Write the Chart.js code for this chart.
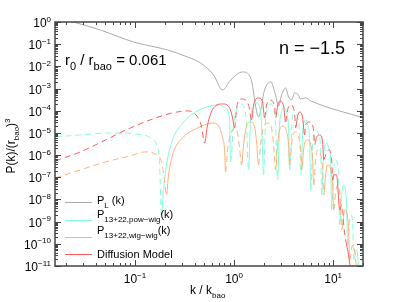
<!DOCTYPE html>
<html lang="en">
<head>
<meta charset="UTF-8" />
<title>P(k) comparison, n = -1.5</title>
<script src="https://cdn.jsdelivr.net/npm/chart.js"></script>
<style>
    * { margin: 0; padding: 0; }
    body { background: #fff; width: 402px; height: 302px; overflow: hidden; }
    canvas { display: block; }
</style>
</head>
<body>
<canvas id="pkChart" width="402" height="302"></canvas>
<script>
// values (k / k_bao, P(k)/(r_bao)^3)
// sign: -1 = negative part (dashed), 1 = positive (solid), 0 = zero crossing
const plK = [0.0157, 0.0239, 0.0448, 0.0966, 0.213, 0.339, 0.459, 0.621, 0.765, 0.922, 1.22, 1.47, 1.77, 2.03, 2.34, 2.62, 2.81, 3.02, 3.31, 3.55, 3.81, 4.08, 4.38, 4.70, 5.27, 5.93, 20.3];
const plP = [1.68, 1.0, 0.436, 0.126, 0.0548, 0.0265, 0.0142, 4.1e-3, 8.6e-4, 2.4e-3, 5.6e-3, 3.0e-3, 5.3e-5, 8.6e-4, 2.0e-3, 5.2e-4, 1.6e-4, 5.2e-4, 1.06e-3, 4.2e-4, 3.1e-4, 6.3e-4, 5.7e-4, 3.4e-4, 3.8e-4, 2.8e-4, 4.7e-5];

const diffK = [0.01574, 0.02812, 0.0504, 0.0901, 0.161, 0.2393, 0.339, 0.428, 0.470, 0.504,
    0.540, 0.621, 0.766, 0.901, 0.966, 1.012,
    1.06, 1.19, 1.40, 1.502,
    1.574, 1.768, 1.94, 2.033,
    2.13, 2.284, 2.564, 2.625,
    2.75, 2.88, 3.16, 3.31,
    3.47, 3.72, 4.08, 4.18,
    4.38, 4.59, 4.92, 5.15,
    5.27, 5.79, 6.35, 6.50,
    6.81, 7.31, 7.83, 8.02,
    8.60, 9.01, 9.66, 9.89,
    10.12, 10.85, 11.1, 11.63,
    12.18, 12.47, 12.76, 13.37,
    14.0, 15.02];
const diffP = [5.5e-7, 1.39e-6, 4.8e-6, 1.68e-5, 4.7e-5, 8.0e-5, 9.8e-5, 5.3e-5, 1.86e-5, 3.5e-6,
    2.3e-5, 1.34e-4, 2.02e-4, 1.34e-4, 4.7e-5, 1.68e-5,
    1.34e-4, 3.4e-4, 1.82e-4, 3.9e-5,
    1.82e-4, 3.77e-4, 2.49e-4, 4.7e-5,
    1.82e-4, 3.06e-4, 1.64e-4, 4.7e-5,
    1.64e-4, 2.76e-4, 1.64e-4, 3.1e-5,
    1.09e-4, 1.82e-4, 8.0e-5, 1.68e-5,
    5.8e-5, 8.8e-5, 4.7e-5, 8.1e-6,
    2.3e-5, 3.1e-5, 1.36e-5, 2.9e-6,
    6.6e-6, 8.1e-6, 3.5e-6, 6.1e-7,
    1.39e-6, 1.71e-6, 6.1e-7, 7.6e-8,
    1.28e-7, 1.28e-7, 4.5e-8, 3.4e-9,
    5.7e-9, 3.4e-9, 7.2e-10, 1.5e-10,
    5.4e-11, 6.8e-12];
const diffSign = [-1, -1, -1, -1, -1, -1, -1, -1, -1, 0,
    1, 1, 1, 1, 1, 0,
    -1, -1, -1, 0,
    1, 1, 1, 0,
    -1, -1, -1, 0,
    1, 1, 1, 0,
    -1, -1, -1, 0,
    1, 1, 1, 0,
    -1, -1, -1, 0,
    1, 1, 1, 0,
    -1, -1, -1, 0,
    1, 1, 1, 0,
    -1, -1, -1, 0,
    1, 1];

const powK = [0.01574, 0.02812, 0.0566, 0.1012, 0.1434, 0.165, 0.1767, 0.1853,
    0.194, 0.208, 0.2393, 0.309, 0.428, 0.579, 0.697, 0.821, 0.901, 0.922,
    0.988, 1.06, 1.163, 1.276, 1.337, 1.40,
    1.468, 1.574, 1.688, 1.81, 1.896, 1.986,
    2.08, 2.18, 2.337, 2.506, 2.625, 2.75,
    2.88, 3.02, 3.16, 3.39, 3.55, 3.63,
    3.81, 3.90, 4.08, 4.38, 4.59, 4.70,
    4.92, 5.03, 5.27, 5.53, 5.79, 5.93,
    6.21, 6.50, 6.81, 7.14, 7.48, 7.65,
    8.02, 8.21, 8.60, 9.01, 9.44, 9.66,
    10.12, 10.36, 10.6, 11.1, 11.37, 11.63,
    12.18, 12.47, 12.76, 13.37, 13.68, 14.0,
    14.68, 15.02, 15.74, 16.1,
    16.9, 17.27, 18.1];
const powP = [6.6e-6, 8.1e-6, 1.0e-5, 9.0e-6, 6.0e-6, 2.9e-6, 4.9e-7, 2.0e-9,
    2.7e-8, 3.6e-7, 4.8e-6, 3.1e-5, 9.8e-5, 1.64e-4, 1.82e-4, 1.34e-4, 3.9e-5, 4.9e-7,
    2.3e-5, 1.09e-4, 2.02e-4, 1.34e-4, 2.3e-5, 2.16e-7,
    3.9e-5, 1.64e-4, 2.25e-4, 1.48e-4, 2.3e-5, 1.28e-7,
    3.9e-5, 1.48e-4, 2.02e-4, 1.21e-4, 2.3e-5, 7.6e-8,
    2.3e-5, 9.8e-5, 1.34e-4, 8.0e-5, 1.36e-5, 2.16e-7,
    1.36e-5, 5.8e-5, 8.0e-5, 4.7e-5, 8.1e-6, 1.28e-7,
    8.1e-6, 2.8e-5, 3.9e-5, 2.3e-5, 4.8e-6, 2.7e-8,
    2.9e-6, 1.0e-5, 1.36e-5, 8.1e-6, 1.71e-6, 1.61e-8,
    1.02e-6, 2.6e-6, 3.5e-6, 2.11e-6, 6.1e-7, 3.4e-9,
    2.16e-7, 4.9e-7, 6.1e-7, 3.6e-7, 7.6e-8, 7.2e-10,
    1.61e-8, 3.7e-8, 4.5e-8, 2.2e-8, 5.7e-9, 9.0e-11,
    9.8e-10, 2.0e-9, 9.8e-10, 1.9e-11,
    4.4e-11, 5.4e-11, 8.3e-12];
const powSign = [-1, -1, -1, -1, -1, -1, -1, 0,
    1, 1, 1, 1, 1, 1, 1, 1, 1, 0,
    -1, -1, -1, -1, -1, 0,
    1, 1, 1, 1, 1, 0,
    -1, -1, -1, -1, -1, 0,
    1, 1, 1, 1, 1, 0,
    -1, -1, -1, -1, -1, 0,
    1, 1, 1, 1, 1, 0,
    -1, -1, -1, -1, -1, 0,
    1, 1, 1, 1, 1, 0,
    -1, -1, -1, -1, -1, 0,
    1, 1, 1, 1, 1, 0,
    -1, -1, -1, 0,
    1, 1, 1];

const wigK = [0.01574, 0.02812, 0.0504, 0.0901, 0.1276, 0.161, 0.1853, 0.1986, 0.208,
    0.218, 0.245, 0.302, 0.408, 0.540, 0.607, 0.697, 0.766, 0.802, 0.821,
    0.860, 0.922, 1.012, 1.084, 1.136, 1.19,
    1.247, 1.337, 1.468, 1.611, 1.688, 1.768,
    1.852, 1.986, 2.23, 2.39, 2.506, 2.625,
    2.75, 2.88, 3.16, 3.39, 3.55, 3.63,
    3.81, 3.90, 4.18, 4.48, 4.70, 4.81,
    5.03, 5.15, 5.53, 5.93, 6.21, 6.35,
    6.65, 6.81, 7.14, 7.48, 7.83, 8.02,
    8.40, 8.60, 9.01, 9.44, 9.89, 10.12,
    10.6, 10.85, 11.1, 11.63, 11.9, 12.18,
    12.76, 13.06, 13.37, 14.0, 14.35, 14.68,
    15.38, 15.74, 16.5, 17.27];
const wigP = [9.4e-8, 2.16e-7, 4.9e-7, 9.2e-7, 1.39e-6, 1.13e-6, 4.9e-7, 7.6e-8, 1.61e-8,
    1.28e-7, 1.39e-6, 6.0e-6, 1.51e-5, 2.54e-5, 2.8e-5, 2.07e-5, 6.0e-6, 1.71e-6, 1.75e-7,
    1.71e-6, 8.1e-6, 1.68e-5, 1.0e-5, 2.11e-6, 3.6e-7,
    2.9e-6, 2.07e-5, 3.1e-5, 1.86e-5, 3.9e-6, 3.6e-7,
    2.9e-6, 1.86e-5, 2.8e-5, 1.68e-5, 2.9e-6, 2.16e-7,
    2.9e-6, 1.36e-5, 2.07e-5, 1.11e-5, 2.9e-6, 3.6e-7,
    2.9e-6, 7.3e-6, 1.11e-5, 6.6e-6, 1.71e-6, 2.16e-7,
    1.71e-6, 3.5e-6, 4.8e-6, 2.9e-6, 6.1e-7, 4.5e-8,
    6.1e-7, 1.39e-6, 1.71e-6, 1.02e-6, 2.16e-7, 1.61e-8,
    1.28e-7, 2.94e-7, 3.6e-7, 2.16e-7, 4.5e-8, 3.4e-9,
    2.2e-8, 3.7e-8, 4.5e-8, 2.2e-8, 5.7e-9, 4.3e-10,
    2.0e-9, 3.1e-9, 3.4e-9, 1.48e-9, 4.3e-10, 1.9e-11,
    6.6e-11, 9.0e-11, 4.4e-11, 6.8e-12];
const wigSign = [-1, -1, -1, -1, -1, -1, -1, -1, 0,
    1, 1, 1, 1, 1, 1, 1, 1, 1, 0,
    -1, -1, -1, -1, -1, 0,
    1, 1, 1, 1, 1, 0,
    -1, -1, -1, -1, -1, 0,
    1, 1, 1, 1, 1, 0,
    -1, -1, -1, -1, -1, 0,
    1, 1, 1, 1, 1, 0,
    -1, -1, -1, -1, -1, 0,
    1, 1, 1, 1, 1, 0,
    -1, -1, -1, -1, -1, 0,
    1, 1, 1, 1, 1, 0,
    -1, -1, -1, -1];

const xTickExps = [-1, 0, 1];
const yTickExps = [0, -1, -2, -3, -4, -5, -6, -7, -8, -9, -10, -11];
const legendItems = [
    { color: '#aaaaaa', parts: [['P', 0], ['L', -1], [' (k)', 0]] },
    { color: '#7fffd4', parts: [['P', 0], ['13+22,pow\u2212wig', -1], ['(k)', 0]] },
    { color: '#ffb07a', parts: [['P', 0], ['13+22,wig\u2212wig', -1], ['(k)', 0]] },
    { color: '#ff5a5a', parts: [['Diffusion Model', 0]] }
];

const FONT = "'Liberation Sans', Arial, Helvetica, sans-serif";
const X_MIN = 0.0156, X_MAX = 20, Y_MIN = 1e-11, Y_MAX = 1;

function pts(ks, ps) {
    return ks.map((k, i) => ({ x: k, y: ps[i] }));
}

// dashed where the curve is negative
function dashBy(sign) {
    return ctx => {
        let s = sign[ctx.p0DataIndex];
        if (s === 0) s = sign[ctx.p1DataIndex];
        return s < 0 ? [6, 4] : undefined;
    };
}

// text with sub/superscripts: parts = [[text, -1|0|1], ...]
function richWidth(ctx, parts, size) {
    let w = 0;
    parts.forEach(([t, m]) => {
        ctx.font = (m === 0 ? size : Math.round(size * 0.7)) + 'px ' + FONT;
        w += ctx.measureText(t).width;
    });
    return w;
}

function drawRich(ctx, parts, x, y, size, align) {
    let w = richWidth(ctx, parts, size);
    let cx = align === 'right' ? x - w : align === 'center' ? x - w / 2 : x;
    ctx.textAlign = 'left';
    ctx.textBaseline = 'alphabetic';
    parts.forEach(([t, m]) => {
        const fs = m === 0 ? size : Math.round(size * 0.7);
        ctx.font = fs + 'px ' + FONT;
        const dy = m < 0 ? size * 0.32 : m > 0 ? -size * 0.45 : 0;
        ctx.fillText(t, cx, y + dy);
        cx += ctx.measureText(t).width;
    });
}

function expParts(e) {
    return [['10', 0], [e < 0 ? '\u2212' + (-e) : String(e), 1]];
}

const framePlugin = {
    id: 'frame',
    afterDraw(chart) {
        const ctx = chart.ctx;
        const a = chart.chartArea;
        const xs = chart.scales.x, ys = chart.scales.y;
        ctx.save();

        // frame
        ctx.strokeStyle = '#444';
        ctx.lineWidth = 1.5;
        ctx.strokeRect(a.left, a.top, a.right - a.left, a.bottom - a.top);

        // ticks on all four sides
        ctx.lineWidth = 1;
        ctx.beginPath();
        for (let d = -2; d <= 1; d++) {
            for (let m = 1; m <= 9; m++) {
                const v = m * Math.pow(10, d);
                if (v < X_MIN || v > X_MAX) continue;
                const px = Math.round(xs.getPixelForValue(v)) + 0.5;
                const len = m === 1 ? 6 : 3;
                ctx.moveTo(px, a.bottom); ctx.lineTo(px, a.bottom - len);
                ctx.moveTo(px, a.top); ctx.lineTo(px, a.top + len);
            }
        }
        for (let d = -11; d <= 0; d++) {
            for (let m = 1; m <= 9; m++) {
                const v = m * Math.pow(10, d);
                if (v < Y_MIN || v > Y_MAX) continue;
                const py = Math.round(ys.getPixelForValue(v)) + 0.5;
                const len = m === 1 ? 6 : 3;
                ctx.moveTo(a.left, py); ctx.lineTo(a.left + len, py);
                ctx.moveTo(a.right, py); ctx.lineTo(a.right - len, py);
            }
        }
        ctx.stroke();

        // tick labels
        ctx.fillStyle = '#000';
        yTickExps.forEach(e => {
            const py = ys.getPixelForValue(Math.pow(10, e));
            drawRich(ctx, expParts(e), 51, py + 5, 12, 'right');
        });
        xTickExps.forEach(e => {
            const px = xs.getPixelForValue(Math.pow(10, e));
            drawRich(ctx, expParts(e), px, 283, 12, 'center');
        });

        // axis titles
        drawRich(ctx, [['k / k', 0], ['bao', -1]], 190, 294, 12, 'left');
        ctx.save();
        ctx.translate(15, 146);
        ctx.rotate(-Math.PI / 2);
        drawRich(ctx, [['P(k)/(r', 0], ['bao', -1], [')', 0], ['3', 1]], 0, 0, 12, 'center');
        ctx.restore();

        // annotations
        drawRich(ctx, [['r', 0], ['0', -1], [' / r', 0], ['bao', -1], [' = 0.061', 0]], 65, 65, 15, 'left');
        drawRich(ctx, [['n = \u22121.5', 0]], 345, 54, 18, 'right');

        // legend
        const rows = [{ ly: 202, ty: 204 }, { ly: 220, ty: 218 }, { ly: 237, ty: 234 }, { ly: 254, ty: 258 }];
        legendItems.forEach((it, i) => {
            ctx.strokeStyle = it.color;
            ctx.lineWidth = 1;
            ctx.setLineDash([]);
            ctx.beginPath();
            ctx.moveTo(65, rows[i].ly + 0.5);
            ctx.lineTo(92, rows[i].ly + 0.5);
            ctx.stroke();
            ctx.fillStyle = '#000';
            drawRich(ctx, it.parts, 97, rows[i].ty, 11, 'left');
        });
        ctx.restore();
    }
};

const common = { pointRadius: 0, borderWidth: 1, fill: false, clip: 0, cubicInterpolationMode: 'monotone' };

new Chart(document.getElementById('pkChart'), {
    type: 'line',
    data: {
        datasets: [
            Object.assign({ label: 'Diffusion Model', data: pts(diffK, diffP), borderColor: '#ff5a5a', segment: { borderDash: dashBy(diffSign) } }, common),
            Object.assign({ label: 'P13+22,wig-wig(k)', data: pts(wigK, wigP), borderColor: '#ffb07a', segment: { borderDash: dashBy(wigSign) } }, common),
            Object.assign({ label: 'P13+22,pow-wig(k)', data: pts(powK, powP), borderColor: '#7fffd4', segment: { borderDash: dashBy(powSign) } }, common),
            Object.assign({ label: 'PL(k)', data: pts(plK, plP), borderColor: '#aaaaaa' }, common)
        ]
    },
    options: {
        responsive: false,
        animation: false,
        devicePixelRatio: 1,
        layout: { padding: { left: 55, top: 22, right: 39, bottom: 36 } },
        plugins: { legend: { display: false }, tooltip: { enabled: false } },
        scales: {
            x: { type: 'logarithmic', min: X_MIN, max: X_MAX, display: false },
            y: { type: 'logarithmic', min: Y_MIN, max: Y_MAX, display: false }
        }
    },
    plugins: [framePlugin]
});
</script>
</body>
</html>
